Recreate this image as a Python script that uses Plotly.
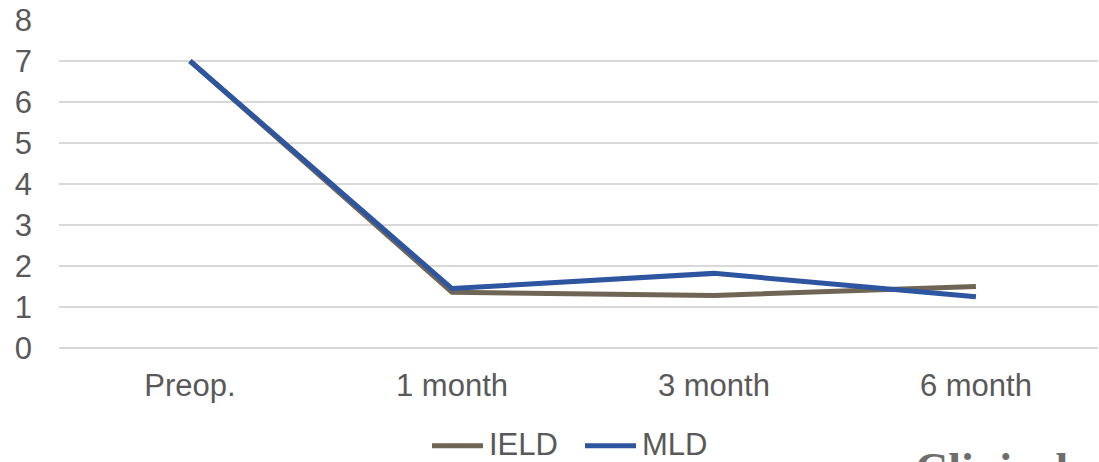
import plotly.graph_objects as go

categories = ["Preop.", "1 month", "3 month", "6 month"]
ield_values = [7.0, 1.36, 1.28, 1.50]
mld_values = [7.0, 1.45, 1.82, 1.25]
y_ticks = [0, 1, 2, 3, 4, 5, 6, 7, 8]
series_names = ["IELD", "MLD"]
series_colors = ["#6F6555", "#2E55A0"]

FONT = "Liberation Sans, Arial, sans-serif"
GRAY = "#595959"

# plot area in pixels: x 59..1098, y 20..348.5
def px_x(px):
    return (px - 59) / 1039

def px_y(py):
    return (348.5 - py) / 328.5

fig = go.Figure()
for name, vals, col in zip(series_names, [ield_values, mld_values], series_colors):
    fig.add_trace(go.Scatter(x=categories, y=vals, name=name, mode="lines",
                             line=dict(color=col, width=5), showlegend=False))

fig.update_layout(
    width=1099, height=462,
    margin=dict(l=59, r=1, t=20, b=113.5, autoexpand=False),
    paper_bgcolor="white", plot_bgcolor="white",
    font=dict(family=FONT, size=31, color=GRAY),
    showlegend=False,
    hovermode=False,
)
fig.update_xaxes(type="category", categoryorder="array", categoryarray=categories,
                 range=[-0.5, 3.466], showgrid=False, zeroline=False, showline=False,
                 ticks="", ticklabelstandoff=16, tickfont=dict(size=31, color=GRAY))
fig.update_yaxes(range=[0, 8], tickvals=y_ticks, showgrid=True, gridcolor="#D9D9D9",
                 gridwidth=2, zeroline=True, zerolinecolor="#D9D9D9", zerolinewidth=2,
                 showline=False, ticks="",
                 ticklabelstandoff=26, tickfont=dict(size=31, color=GRAY))

# legend drawn manually (long line samples like the reference)
legend_items = [(430, 485, 487), (583, 638, 640)]
for (x0, x1, tx), name, col in zip(legend_items, series_names, series_colors):
    fig.add_shape(type="line", xref="paper", yref="paper",
                  x0=px_x(x0 + 2), x1=px_x(x1 - 2), y0=px_y(446.5), y1=px_y(446.5),
                  line=dict(color=col, width=5))
    fig.add_annotation(text=name, xref="paper", yref="paper", x=px_x(tx), xanchor="left",
                       y=px_y(445), yanchor="middle", showarrow=False,
                       font=dict(family=FONT, size=31, color=GRAY))

fig.add_annotation(text="<b>Clinical</b>", xref="paper", yref="paper",
                   x=px_x(913), xanchor="left", y=-0.287, yanchor="top",
                   showarrow=False,
                   font=dict(family="Liberation Serif, Times New Roman, serif", size=46, color="#6E6E6E"))

fig.write_html("out.html")
